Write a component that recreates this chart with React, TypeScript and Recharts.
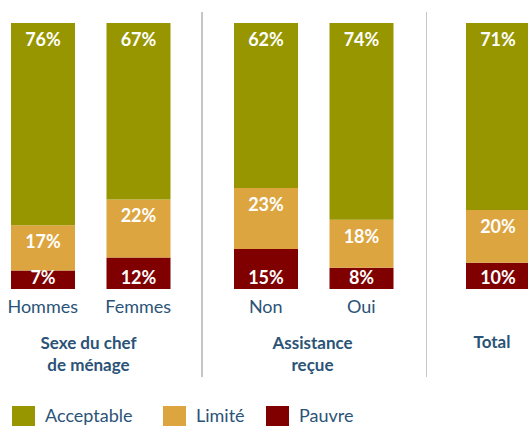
import { BarChart, Bar, XAxis, YAxis, LabelList } from "recharts";

// valeurs (%)
const categories = ["Hommes", "Femmes", "Non", "Oui", "Total"];
const tickLabels = ["Hommes", "Femmes", "Non", "Oui", ""];
const acceptable = [76, 67, 62, 74, 71];
const limite = [17, 22, 23, 18, 20];
const pauvre = [7, 12, 15, 8, 10];
const groupIndex = [0, 0, 1, 1, 2];
const groupNames = [["Sexe du chef", "de ménage"], ["Assistance", "reçue"], ["Total"]];

const series = [
  { key: "acceptable", name: "Acceptable", color: "#979600" },
  { key: "limite", name: "Limité", color: "#DDA53F" },
  { key: "pauvre", name: "Pauvre", color: "#800000" },
];

const TEXT = "#2B5377";
const FONT = "Lato, 'Open Sans', sans-serif";

const rows = categories.map((c, i) => ({
  name: c,
  tick: tickLabels[i],
  group: groupIndex[i],
  acceptable: acceptable[i],
  limite: limite[i],
  pauvre: pauvre[i],
}));

// placement of each group panel (left edge, width) and its label
const panels = [
  { left: -5, width: 191, labelCenter: 88.5 },
  { left: 218, width: 191, labelCenter: 312.5 },
  { left: 450, width: 96, labelCenter: 492 },
];
const separators = [201, 425.5];
const legendLeft = [12, 163, 266];

const pct = (v: any) => `${v}%`;
const labelStyle = { fill: "#fff", fontSize: 18, fontWeight: 700, fontFamily: FONT };

function GroupChart({ index }: { index: number }) {
  const data = rows.filter((r) => r.group === index);
  const p = panels[index];
  return (
    <div style={{ position: "absolute", left: p.left, top: 0 }}>
      <BarChart
        width={p.width}
        height={319}
        data={data}
        stackOffset="expand"
        barSize={64}
        margin={{ top: 23, right: 0, bottom: 0, left: 0 }}
      >
        <XAxis
          dataKey="tick"
          axisLine={false}
          tickLine={false}
          tickMargin={5}
          height={30}
          interval={0}
          tick={{ fill: TEXT, fontSize: 18, fontFamily: FONT }}
        />
        <YAxis hide domain={[0, 1]} />
        <Bar dataKey="pauvre" stackId="a" fill={series[2].color} isAnimationActive={false}>
          <LabelList dataKey="pauvre" position="insideBottom" offset={5} formatter={pct} style={labelStyle} />
        </Bar>
        <Bar dataKey="limite" stackId="a" fill={series[1].color} isAnimationActive={false}>
          <LabelList dataKey="limite" position="insideTop" offset={10} formatter={pct} style={labelStyle} />
        </Bar>
        <Bar dataKey="acceptable" stackId="a" fill={series[0].color} isAnimationActive={false}>
          <LabelList dataKey="acceptable" position="insideTop" offset={10} formatter={pct} style={labelStyle} />
        </Bar>
      </BarChart>
    </div>
  );
}

export default function App() {
  return (
    <div
      style={{
        position: "fixed",
        left: 0,
        top: 0,
        width: 528,
        height: 426,
        overflow: "hidden",
        background: "#fff",
        fontFamily: FONT,
      }}
    >
      {panels.map((_, i) => (
        <GroupChart key={i} index={i} />
      ))}

      {separators.map((x) => (
        <div
          key={x}
          style={{ position: "absolute", left: x, top: 12, width: 1.5, height: 365, background: "#c6c6c6" }}
        />
      ))}

      {groupNames.map((lines, i) => (
        <div
          key={i}
          style={{
            position: "absolute",
            left: panels[i].labelCenter - 80,
            width: 160,
            top: lines.length > 1 ? 332 : 331,
            textAlign: "center",
            color: TEXT,
            fontWeight: 700,
            fontSize: 17,
            lineHeight: "22px",
          }}
        >
          {lines.map((l) => (
            <div key={l}>{l}</div>
          ))}
        </div>
      ))}

      {series.map((s, i) => (
        <div
          key={s.key}
          style={{ position: "absolute", left: legendLeft[i], top: 406, display: "flex", alignItems: "flex-start" }}
        >
          <div style={{ width: 23, height: 23, background: s.color }} />
          <span style={{ marginLeft: 10, color: TEXT, fontSize: 18, lineHeight: "23px", marginTop: -2 }}>{s.name}</span>
        </div>
      ))}
    </div>
  );
}
